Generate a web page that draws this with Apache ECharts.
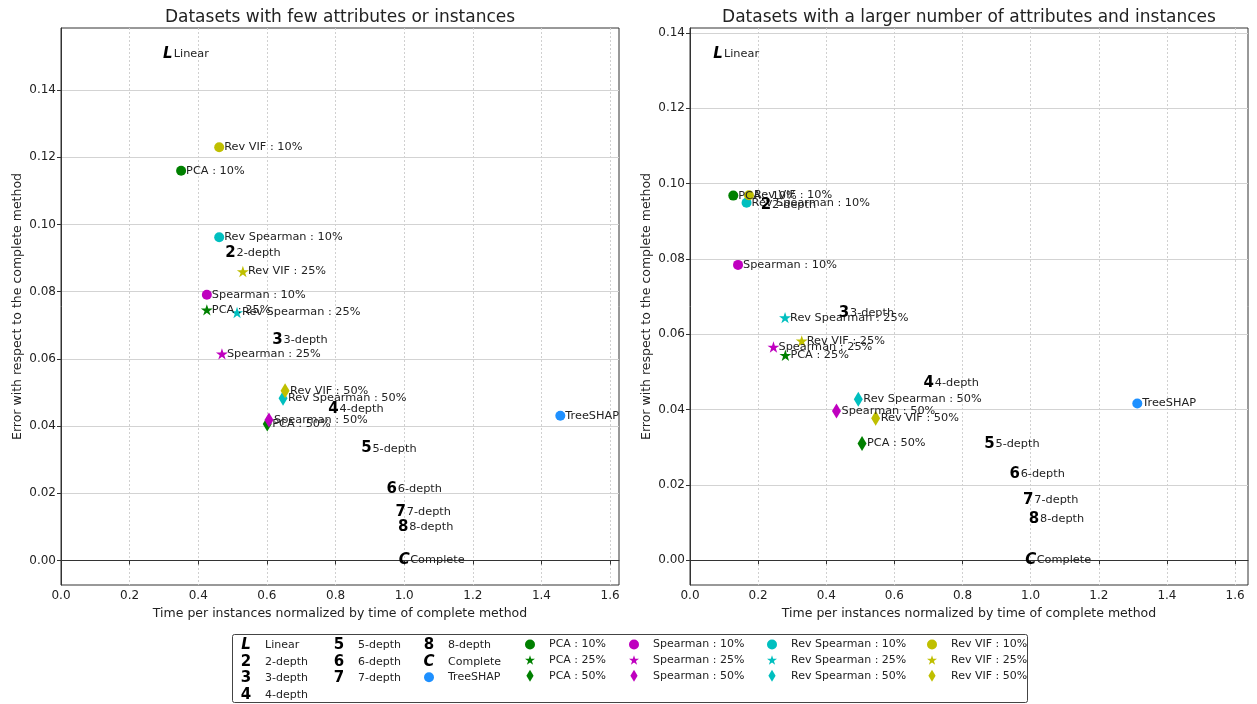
<!DOCTYPE html>
<html>
<head>
<meta charset="utf-8">
<script src="https://cdn.jsdelivr.net/npm/echarts@6/dist/echarts.min.js"></script>
<style>
  body { margin: 0; background: #fff; }
  #chart { width: 1257px; height: 704px; }
</style>
</head>
<body>
<div id="chart"></div>
<script>
// method names, in legend order
const methodNames = [
  'Linear', '2-depth', '3-depth', '4-depth', '5-depth', '6-depth', '7-depth', '8-depth',
  'Complete', 'TreeSHAP',
  'PCA : 10%', 'PCA : 25%', 'PCA : 50%',
  'Spearman : 10%', 'Spearman : 25%', 'Spearman : 50%',
  'Rev Spearman : 10%', 'Rev Spearman : 25%', 'Rev Spearman : 50%',
  'Rev VIF : 10%', 'Rev VIF : 25%', 'Rev VIF : 50%'
];

// left plot: few attributes or instances
const fewTime = [0.311, 0.494, 0.631, 0.794, 0.890, 0.964, 0.990, 0.997, 1.000, 1.455,
  0.350, 0.425, 0.601, 0.425, 0.469, 0.606, 0.461, 0.513, 0.647, 0.461, 0.530, 0.653];
const fewError = [0.1507, 0.0914, 0.0656, 0.0450, 0.0333, 0.0212, 0.0145, 0.0099, 0.0000, 0.0431,
  0.1160, 0.0746, 0.0406, 0.0791, 0.0615, 0.0418, 0.0962, 0.0738, 0.0483, 0.1230, 0.0860, 0.0505];

// right plot: larger number of attributes and instances
const largeTime = [0.082, 0.223, 0.452, 0.701, 0.879, 0.953, 0.993, 1.010, 1.000, 1.313,
  0.127, 0.280, 0.505, 0.141, 0.245, 0.430, 0.166, 0.279, 0.494, 0.173, 0.328, 0.545];
const largeError = [0.1344, 0.0942, 0.0655, 0.0469, 0.0307, 0.0229, 0.0159, 0.0109, 0.0000, 0.0416,
  0.0968, 0.0544, 0.0310, 0.0784, 0.0566, 0.0396, 0.0949, 0.0644, 0.0427, 0.0969, 0.0582, 0.0377];

const xTicks = [0, 0.2, 0.4, 0.6, 0.8, 1.0, 1.2, 1.4, 1.6];
const yTicks = [0, 0.02, 0.04, 0.06, 0.08, 0.10, 0.12, 0.14];

// text markers for the depth / linear / complete series
const glyphs = ['L', '2', '3', '4', '5', '6', '7', '8', 'C'];

const STAR = 'path://M50,0L61.2,34.5L97.6,34.5L68.2,55.9L79.4,90.5L50,69.1L20.6,90.5L31.8,55.9L2.4,34.5L38.8,34.5Z';
const THIN_DIAMOND = 'path://M3,0L6,5L3,10L0,5Z';

function colorOf(name) {
  if (name === 'TreeSHAP') return '#1e90ff';
  if (name.startsWith('PCA')) return '#008000';
  if (name.startsWith('Spearman')) return '#bf00bf';
  if (name.startsWith('Rev Spearman')) return '#00bfbf';
  if (name.startsWith('Rev VIF')) return '#bfbf00';
  return '#000';
}
function symbolOf(name) {
  if (name.endsWith('25%')) return STAR;
  if (name.endsWith('50%')) return THIN_DIAMOND;
  return 'circle';
}
function sizeOf(name) {
  if (name.endsWith('25%')) return 12;
  if (name.endsWith('50%')) return 15;
  return 10;
}

const ROW_H = 16.4, LEG_TOP = 638;
const LABEL_SIZE = 11.3;

const richText = {
  g: { fontSize: 15, fontWeight: 'bold', width: 12, align: 'center', color: '#000', lineHeight: ROW_H },
  gi: { fontSize: 15, fontWeight: 'bold', fontStyle: 'italic', width: 12, align: 'center', color: '#000', lineHeight: ROW_H },
  t: { fontSize: LABEL_SIZE, color: '#222', lineHeight: ROW_H }
};

function glyphTag(i) {
  const g = glyphs[i];
  return (g === 'L' || g === 'C') ? 'gi' : 'g';
}

function makeSeries(i, gi, xs, ys) {
  const name = methodNames[i];
  const base = {
    name: name,
    type: 'scatter',
    xAxisIndex: gi,
    yAxisIndex: gi,
    data: [[xs[i], ys[i]]],
    silent: true,
    z: i < glyphs.length ? 3 : 2
  };
  if (i < glyphs.length) {
    return Object.assign(base, {
      symbol: 'circle',
      symbolSize: 1,
      itemStyle: { color: 'rgba(0,0,0,0)', opacity: 1 },
      label: {
        show: true,
        position: ['50%', '50%'],
        align: 'left',
        verticalAlign: 'middle',
        offset: [-6, 0],
        opacity: 1,
        formatter: '{' + glyphTag(i) + '|' + glyphs[i] + '}{t|' + name + '}',
        rich: richText
      }
    });
  }
  return Object.assign(base, {
    symbol: symbolOf(name),
    symbolSize: sizeOf(name),
    symbolKeepAspect: true,
    itemStyle: { color: colorOf(name), opacity: 1 },
    label: {
      show: true,
      position: ['50%', '50%'],
      align: 'left',
      verticalAlign: 'middle',
      offset: [5, 0],
      formatter: name,
      fontSize: LABEL_SIZE,
      color: '#222'
    }
  });
}

function xAxisOf(gi, max) {
  return {
    type: 'value', gridIndex: gi, min: 0, max: max,
    name: 'Time per instances normalized by time of complete method',
    nameLocation: 'middle', nameGap: 21,
    nameTextStyle: { fontSize: 12.5, color: '#222' },
    axisLine: { show: true, lineStyle: { color: '#333' } },
    axisTick: { show: true, inside: false, length: 4, customValues: xTicks, lineStyle: { color: '#333' } },
    axisLabel: { customValues: xTicks, formatter: v => v.toFixed(1), fontSize: 12, color: '#222', margin: 5 },
    splitLine: { show: true, lineStyle: { color: '#d0d0d0', type: [2, 2], width: 1 } }
  };
}
function yAxisOf(gi, min, max) {
  return {
    type: 'value', gridIndex: gi, min: min, max: max,
    name: 'Error with respect to the complete method',
    nameLocation: 'middle', nameGap: 37,
    nameTextStyle: { fontSize: 12.5, color: '#222' },
    axisLine: { show: true, lineStyle: { color: '#333' } },
    axisTick: { show: true, inside: false, length: 4, customValues: yTicks, lineStyle: { color: '#333' } },
    axisLabel: { customValues: yTicks, formatter: v => v.toFixed(2), fontSize: 12, color: '#222', margin: 5 },
    splitLine: { show: true, lineStyle: { color: '#d3d3d3', width: 1 } }
  };
}

const series = [];
methodNames.forEach((n, i) => {
  series.push(makeSeries(i, 0, fewTime, fewError));
  series.push(makeSeries(i, 1, largeTime, largeError));
});

// legend, laid out column by column like the original
const legendCols = [
  { names: methodNames.slice(0, 4), x: 246, row: 0 },
  { names: methodNames.slice(4, 7), x: 339, row: 0 },
  { names: methodNames.slice(7, 9), x: 429, row: 0 },
  { names: methodNames.slice(9, 10), x: 429, row: 2 },
  { names: methodNames.slice(10, 13), x: 530, row: 0 },
  { names: methodNames.slice(13, 16), x: 634, row: 0 },
  { names: methodNames.slice(16, 19), x: 772, row: 0 },
  { names: methodNames.slice(19, 22), x: 932, row: 0 }
];
const legends = legendCols.map(col => {
  const isGlyph = glyphs.length > methodNames.indexOf(col.names[0]);
  return {
    orient: 'vertical',
    left: isGlyph ? col.x - 21 : col.x - 5,
    top: LEG_TOP + col.row * ROW_H + (isGlyph ? 0 : 1),
    height: 120,
    padding: 0,
    itemWidth: 10,
    itemHeight: 12,
    itemGap: isGlyph ? 1.4 : ROW_H - 12,
    selectedMode: false,
    data: col.names.map(n => ({ name: n, icon: isGlyph ? 'none' : symbolOf(n) })),
    formatter: n => {
      const i = methodNames.indexOf(n);
      if (i < glyphs.length) return '{' + glyphTag(i) + '|' + glyphs[i] + '}{tg|' + n + '}';
      return '{ts|' + n + '}';
    },
    textStyle: {
      rich: {
        g: richText.g, gi: richText.gi,
        tg: { fontSize: 11, color: '#222', lineHeight: ROW_H, padding: [0, 0, 0, 13] },
        ts: { fontSize: 11, color: '#222', lineHeight: ROW_H, padding: [0, 0, 0, 9] }
      }
    }
  };
});

const chart = echarts.init(document.getElementById('chart'));
chart.setOption({
  animation: false,
  textStyle: { fontFamily: 'DejaVu Sans' },
  title: [
    { text: 'Datasets with few attributes or instances', left: 340, top: 9, textAlign: 'center', padding: 0,
      textStyle: { fontSize: 17, fontWeight: 'normal', color: '#222' } },
    { text: 'Datasets with a larger number of attributes and instances', left: 969, top: 9, textAlign: 'center', padding: 0,
      textStyle: { fontSize: 17, fontWeight: 'normal', color: '#222' } }
  ],
  grid: [
    { left: 61, top: 28, width: 558, height: 557, show: true, borderColor: '#333', borderWidth: 1, containLabel: false },
    { left: 690, top: 28, width: 558, height: 557, show: true, borderColor: '#333', borderWidth: 1, containLabel: false }
  ],
  xAxis: [xAxisOf(0, 1.626), xAxisOf(1, 1.638)],
  yAxis: [yAxisOf(0, -0.0073, 0.1585), yAxisOf(1, -0.0066, 0.1413)],
  legend: legends,
  graphic: [{
    type: 'rect', silent: true, z: -1,
    shape: { x: 232.5, y: 634.5, width: 795, height: 68, r: 2 },
    style: { fill: '#fff', stroke: '#444', lineWidth: 1 }
  }],
  series: series
});
</script>
</body>
</html>
